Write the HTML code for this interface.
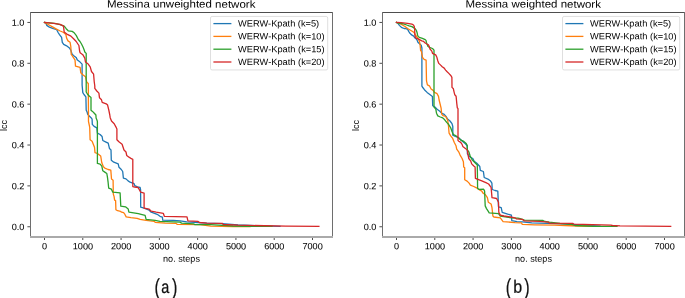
<!DOCTYPE html>
<html><head><meta charset="utf-8"><style>
html,body{margin:0;padding:0;background:#fff;width:685px;height:298px;overflow:hidden}
svg{display:block;will-change:transform;font-family:"Liberation Sans",sans-serif}
.tk{font-size:9.1px;fill:#000}
.num{stroke:#000;stroke-width:0.06px}
.ti{font-size:10.5px;fill:#000}
.cap{font-size:18.5px;fill:#111}
</style></head><body>
<svg width="685" height="298" viewBox="0 0 685 298">
<rect x="0" y="0" width="685" height="298" fill="#fff"/>
<polyline points="44.50,22.45 46.00,23.40 46.70,25.40 49.40,27.10 53.40,28.70 56.70,29.60 58.10,32.50 59.50,34.60 61.60,37.40 62.30,42.30 63.70,44.40 66.60,45.80 69.40,47.90 70.80,50.10 72.00,54.00 73.40,55.40 76.10,57.40 77.40,60.10 80.10,62.10 82.10,64.10 82.10,85.00 82.80,92.60 84.00,94.50 85.90,96.90 86.20,110.20 87.10,112.00 87.70,114.40 89.50,116.20 91.30,118.00 92.10,119.20 92.30,124.40 94.10,126.40 96.80,127.80 97.40,133.10 100.10,134.50 102.10,136.50 102.80,140.50 105.50,141.80 108.20,143.20 109.50,148.60 111.00,150.00 111.30,160.20 113.80,162.20 118.20,163.80 119.00,167.30 121.30,169.50 122.70,171.50 123.40,178.20 126.00,178.90 128.10,180.90 130.10,182.20 132.10,182.90 134.10,183.60 134.80,185.60 137.40,186.90 140.10,187.50 140.60,190.00 140.70,207.20 144.10,208.20 149.20,210.20 151.20,212.20 157.20,214.30 160.00,216.30 162.40,217.10 162.70,220.10 173.40,220.40 180.10,220.80 186.80,221.80 198.30,222.50 206.80,223.10 222.00,223.60 238.00,225.00 260.00,225.80 280.00,226.30" fill="none" stroke="#1f77b4" stroke-width="1.3" stroke-linejoin="round" stroke-linecap="square"/>
<polyline points="44.50,22.45 48.70,24.70 53.40,27.40 56.00,28.90 60.20,31.00 63.70,32.50 65.90,34.60 66.60,38.10 68.00,40.90 70.10,42.30 70.80,46.50 71.20,54.30 72.20,55.70 73.60,57.80 75.00,59.90 75.50,66.10 80.10,67.40 80.80,72.80 82.80,74.80 85.50,76.80 86.80,82.20 88.30,83.60 88.50,121.50 89.70,127.10 90.10,139.80 92.10,141.20 93.40,144.50 94.50,147.20 95.00,152.60 97.40,153.50 100.70,156.00 101.80,162.80 103.40,166.80 104.80,168.10 108.10,169.50 110.80,170.10 111.50,178.90 113.10,180.20 113.30,194.10 114.10,196.60 114.60,200.10 115.60,200.60 115.90,209.70 117.60,210.70 120.60,211.40 121.60,212.20 123.60,212.70 124.80,214.20 126.20,216.90 130.90,217.60 137.10,218.30 140.10,219.30 146.10,220.30 154.20,221.30 155.20,222.30 165.30,223.10 176.10,223.40 177.40,224.40 200.00,224.60 210.80,226.10 233.00,226.50 250.00,226.60" fill="none" stroke="#ff7f0e" stroke-width="1.3" stroke-linejoin="round" stroke-linecap="square"/>
<polyline points="44.50,22.45 54.80,23.40 60.10,24.70 64.20,26.10 66.20,28.70 68.20,30.80 72.20,31.40 74.20,32.80 76.20,35.40 78.30,39.50 80.00,41.50 81.50,44.00 83.00,47.00 84.20,50.00 84.80,52.00 86.20,53.40 86.20,92.00 87.70,94.50 89.50,96.30 91.00,97.50 91.00,110.20 92.50,111.40 94.30,113.20 95.90,115.00 96.10,118.00 97.30,121.00 97.40,122.40 97.40,163.40 100.10,164.10 101.80,166.10 102.80,170.80 104.80,172.10 106.80,173.50 107.40,176.80 108.10,182.20 108.70,188.20 111.40,189.20 112.80,192.10 120.10,192.80 120.80,206.20 125.50,206.80 128.20,208.90 128.90,212.20 133.60,212.90 138.30,213.60 141.10,214.30 145.10,215.30 146.10,219.30 155.20,220.30 160.00,221.40 180.10,222.10 181.50,223.10 193.60,223.80 194.90,224.60 210.80,224.70 222.00,225.40 233.00,226.00 250.00,226.30 272.00,226.40" fill="none" stroke="#2ca02c" stroke-width="1.3" stroke-linejoin="round" stroke-linecap="square"/>
<polyline points="44.50,22.45 53.40,23.40 60.10,24.40 63.50,26.10 64.20,32.10 66.80,34.10 70.90,36.10 73.60,38.80 76.20,41.50 78.90,45.50 79.60,51.00 80.10,52.70 82.80,54.70 84.80,58.10 85.50,62.10 88.20,64.10 90.20,66.80 91.50,71.50 93.60,74.20 94.20,81.50 94.80,86.00 94.80,88.40 96.80,91.00 98.90,93.10 99.50,97.80 101.50,99.80 102.20,102.40 106.20,103.80 107.60,105.10 108.90,110.50 109.80,115.00 110.20,117.70 111.50,121.00 114.20,123.70 116.00,127.10 116.90,129.10 116.90,139.80 118.90,141.80 122.10,144.20 124.00,150.00 126.00,152.00 126.70,155.40 129.40,157.40 131.40,158.70 132.80,159.40 132.80,186.60 134.80,187.00 138.10,187.50 138.10,187.50 140.70,192.10 144.10,193.10 144.10,208.20 149.20,209.20 151.20,211.20 156.20,212.20 163.30,213.30 164.30,216.30 187.00,216.80 187.90,220.80 198.10,221.40 199.30,222.50 206.80,223.10 222.50,223.30 223.10,224.50 238.00,225.20 286.00,226.10 318.90,226.40" fill="none" stroke="#d62728" stroke-width="1.3" stroke-linejoin="round" stroke-linecap="square"/>
<rect x="30" y="12" width="303" height="1" fill="#4e4e4e"/>
<rect x="30" y="12" width="1" height="225" fill="#6e6e6e"/>
<rect x="332" y="12" width="1" height="225" fill="#6e6e6e"/>
<rect x="30" y="236" width="303" height="2" fill="#aaaaaa"/>
<line x1="27.4" y1="226.75" x2="30.0" y2="226.75" stroke="#000" stroke-width="0.7"/>
<text class="tk num" x="24.30" y="230.04" text-anchor="end" transform="matrix(1 0.0005 0 1 0 -0.0122)">0.0</text>
<line x1="27.4" y1="185.89" x2="30.0" y2="185.89" stroke="#000" stroke-width="0.7"/>
<text class="tk num" x="24.30" y="189.18" text-anchor="end" transform="matrix(1 0.0005 0 1 0 -0.0122)">0.2</text>
<line x1="27.4" y1="145.03" x2="30.0" y2="145.03" stroke="#000" stroke-width="0.7"/>
<text class="tk num" x="24.30" y="148.32" text-anchor="end" transform="matrix(1 0.0005 0 1 0 -0.0122)">0.4</text>
<line x1="27.4" y1="104.17" x2="30.0" y2="104.17" stroke="#000" stroke-width="0.7"/>
<text class="tk num" x="24.30" y="107.46" text-anchor="end" transform="matrix(1 0.0005 0 1 0 -0.0122)">0.6</text>
<line x1="27.4" y1="63.31" x2="30.0" y2="63.31" stroke="#000" stroke-width="0.7"/>
<text class="tk num" x="24.30" y="66.60" text-anchor="end" transform="matrix(1 0.0005 0 1 0 -0.0122)">0.8</text>
<line x1="27.4" y1="22.45" x2="30.0" y2="22.45" stroke="#000" stroke-width="0.7"/>
<text class="tk num" x="24.30" y="25.74" text-anchor="end" transform="matrix(1 0.0005 0 1 0 -0.0122)">1.0</text>
<line x1="44.50" y1="238" x2="44.50" y2="240" stroke="#000" stroke-width="0.7"/>
<text class="tk num" x="44.60" y="249.39" text-anchor="middle" transform="matrix(1 0.0005 0 1 0 -0.0223)">0</text>
<line x1="82.79" y1="238" x2="82.79" y2="240" stroke="#000" stroke-width="0.7"/>
<text class="tk num" x="82.89" y="249.39" text-anchor="middle" transform="matrix(1 0.0005 0 1 0 -0.0414)">1000</text>
<line x1="121.07" y1="238" x2="121.07" y2="240" stroke="#000" stroke-width="0.7"/>
<text class="tk num" x="121.17" y="249.39" text-anchor="middle" transform="matrix(1 0.0005 0 1 0 -0.0606)">2000</text>
<line x1="159.36" y1="238" x2="159.36" y2="240" stroke="#000" stroke-width="0.7"/>
<text class="tk num" x="159.46" y="249.39" text-anchor="middle" transform="matrix(1 0.0005 0 1 0 -0.0797)">3000</text>
<line x1="197.64" y1="238" x2="197.64" y2="240" stroke="#000" stroke-width="0.7"/>
<text class="tk num" x="197.74" y="249.39" text-anchor="middle" transform="matrix(1 0.0005 0 1 0 -0.0989)">4000</text>
<line x1="235.93" y1="238" x2="235.93" y2="240" stroke="#000" stroke-width="0.7"/>
<text class="tk num" x="236.03" y="249.39" text-anchor="middle" transform="matrix(1 0.0005 0 1 0 -0.1180)">5000</text>
<line x1="274.21" y1="238" x2="274.21" y2="240" stroke="#000" stroke-width="0.7"/>
<text class="tk num" x="274.31" y="249.39" text-anchor="middle" transform="matrix(1 0.0005 0 1 0 -0.1372)">6000</text>
<line x1="312.50" y1="238" x2="312.50" y2="240" stroke="#000" stroke-width="0.7"/>
<text class="tk num" x="312.60" y="249.39" text-anchor="middle" transform="matrix(1 0.0005 0 1 0 -0.1563)">7000</text>
<text class="tk" x="181.50" y="261.80" text-anchor="middle" transform="matrix(1 0.0005 0 1 0 -0.0907)">no. steps</text>
<text class="tk" x="6.9" y="125.4" text-anchor="middle" transform="translate(0 0) rotate(-90 6.9 125.4)">lcc</text>
<text class="ti" x="181.20" y="7.60" text-anchor="middle" transform="matrix(1 0.0005 0 1 0 -0.0906)" textLength="148.4" lengthAdjust="spacingAndGlyphs">Messina unweighted network</text>
<rect x="210.5" y="16.45" width="117.2" height="53.5" rx="1.6" fill="#fff" fill-opacity="0.8" stroke="#d4d4d4" stroke-width="0.75"/>
<line x1="213.4" y1="23.60" x2="231.4" y2="23.60" stroke="#1f77b4" stroke-width="1.3"/>
<text class="tk" x="238.10" y="26.55" transform="matrix(1 0.0005 0 1 0 -0.1191)" textLength="81.1" lengthAdjust="spacingAndGlyphs">WERW-Kpath (k=5)</text>
<line x1="213.4" y1="36.40" x2="231.4" y2="36.40" stroke="#ff7f0e" stroke-width="1.3"/>
<text class="tk" x="238.10" y="39.35" transform="matrix(1 0.0005 0 1 0 -0.1191)" textLength="86.5" lengthAdjust="spacingAndGlyphs">WERW-Kpath (k=10)</text>
<line x1="213.4" y1="49.20" x2="231.4" y2="49.20" stroke="#2ca02c" stroke-width="1.3"/>
<text class="tk" x="238.10" y="52.15" transform="matrix(1 0.0005 0 1 0 -0.1191)" textLength="86.5" lengthAdjust="spacingAndGlyphs">WERW-Kpath (k=15)</text>
<line x1="213.4" y1="62.00" x2="231.4" y2="62.00" stroke="#d62728" stroke-width="1.3"/>
<text class="tk" x="238.10" y="64.95" transform="matrix(1 0.0005 0 1 0 -0.1191)" textLength="86.5" lengthAdjust="spacingAndGlyphs">WERW-Kpath (k=20)</text>
<text x="0" y="0" font-size="22.5px" fill="#111" stroke="#111" stroke-width="0.25" transform="matrix(0.72 0.0005 0 1 154.40 294.40)">(</text>
<text x="0" y="0" font-size="18.0px" fill="#111" stroke="#111" stroke-width="0.25" transform="matrix(0.8 0.0005 0 1 161.20 292.90)">a</text>
<text x="0" y="0" font-size="22.5px" fill="#111" stroke="#111" stroke-width="0.25" transform="matrix(0.72 0.0005 0 1 172.00 294.40)">)</text>
<polyline points="396.50,22.45 398.00,23.40 399.40,25.40 401.40,27.40 404.10,28.50 406.00,28.70 407.70,29.40 408.70,31.40 409.70,33.00 411.00,34.40 412.40,35.40 413.70,36.10 414.70,37.70 416.10,38.80 417.10,40.10 417.70,41.80 418.40,42.80 419.80,44.00 421.20,45.20 421.90,48.00 421.90,86.20 422.40,87.00 424.40,89.70 427.10,92.40 429.80,94.40 432.40,96.40 432.70,105.80 435.10,107.10 437.10,109.20 439.80,111.20 441.50,113.00 444.20,114.40 446.00,116.40 447.60,119.10 450.00,121.00 452.00,123.60 452.80,126.50 452.80,135.20 455.40,136.50 457.40,137.20 459.40,138.40 462.10,141.00 465.40,143.70 467.20,145.70 467.40,153.80 470.10,157.10 472.80,158.50 474.20,161.20 476.80,163.20 478.90,165.50 479.80,166.50 480.30,170.40 483.40,171.50 484.20,177.50 487.90,179.10 490.60,181.10 491.90,183.10 492.20,189.50 495.00,190.50 497.80,191.10 498.50,206.80 501.20,207.70 502.20,212.30 507.70,214.20 511.40,215.10 511.80,220.60 517.00,221.60 522.30,221.80 531.80,222.90 547.80,223.30 565.00,224.00 580.00,225.00 600.00,226.00" fill="none" stroke="#1f77b4" stroke-width="1.3" stroke-linejoin="round" stroke-linecap="square"/>
<polyline points="396.50,22.45 401.00,24.10 405.00,26.50 408.00,28.80 410.50,30.20 413.00,31.80 414.30,32.80 415.50,34.80 417.20,37.30 418.80,40.00 419.60,42.00 420.10,45.00 420.60,50.50 421.40,51.30 422.50,57.40 424.10,59.40 426.10,60.10 426.50,80.90 427.40,84.90 429.40,85.80 431.10,89.00 433.10,90.40 434.50,92.40 437.10,93.70 438.50,96.40 439.10,100.00 440.10,104.00 441.10,108.10 441.70,114.10 443.10,115.70 445.70,116.50 447.70,120.10 448.50,126.20 449.10,133.20 450.70,135.90 452.70,138.40 454.30,142.50 456.00,145.70 456.70,149.10 458.70,151.80 460.10,155.10 462.10,158.50 463.40,161.80 463.70,167.00 464.70,167.70 464.70,179.80 467.10,181.10 469.10,183.10 470.40,185.10 473.80,186.50 476.50,187.80 478.50,189.20 480.00,190.20 481.80,191.10 482.80,192.90 485.50,194.80 487.40,197.60 488.30,202.20 491.10,204.00 492.00,207.70 492.90,216.00 493.90,217.00 500.30,217.90 503.10,221.60 515.00,222.60 521.60,222.90 522.30,224.40 534.70,224.80 554.40,225.10 565.00,225.50 577.50,226.00 593.30,226.40" fill="none" stroke="#ff7f0e" stroke-width="1.3" stroke-linejoin="round" stroke-linecap="square"/>
<polyline points="396.50,22.45 397.80,23.00 403.50,23.80 406.70,25.00 409.10,25.80 411.90,26.60 413.90,27.90 415.50,29.10 416.40,30.50 417.10,32.70 417.60,35.30 418.40,36.70 420.10,37.70 422.40,38.40 424.10,39.10 425.20,39.60 426.00,40.40 426.40,42.40 427.20,44.40 428.00,46.50 430.10,47.70 432.50,48.50 434.00,50.10 434.00,107.10 435.80,109.20 436.50,113.20 437.80,115.90 440.30,117.00 442.70,117.90 444.70,119.80 446.70,122.40 448.70,124.50 450.70,127.80 452.10,131.80 453.40,134.50 456.10,135.90 458.10,137.40 460.40,139.80 463.80,141.40 466.20,143.50 467.20,145.50 467.40,149.80 468.80,151.80 470.10,155.80 472.10,159.80 474.80,162.50 476.80,164.50 477.30,165.00 477.60,188.50 479.20,189.40 483.70,189.20 484.60,191.10 485.20,205.90 486.50,208.60 488.30,211.40 489.20,212.90 498.50,213.60 500.30,216.00 511.40,217.90 517.90,218.20 520.10,218.60 524.50,220.20 542.70,220.40 544.90,221.50 549.30,222.20 560.00,223.40 571.40,224.40 574.90,225.50 593.30,226.30 617.00,226.40" fill="none" stroke="#2ca02c" stroke-width="1.3" stroke-linejoin="round" stroke-linecap="square"/>
<polyline points="396.50,22.45 401.10,22.60 407.50,23.40 411.90,24.20 413.50,25.00 414.30,26.60 414.70,29.50 414.80,34.70 415.40,37.40 416.70,38.40 418.80,39.10 420.40,40.10 421.80,40.80 423.60,41.30 424.80,42.80 426.80,44.00 428.40,44.80 429.20,46.50 430.10,49.30 431.70,50.90 432.50,53.30 434.10,54.10 435.70,54.90 436.90,57.30 437.70,60.50 438.80,63.40 440.90,65.40 442.20,66.80 444.20,68.10 445.60,70.10 446.90,71.50 448.80,73.40 451.00,75.70 451.90,77.40 452.00,87.40 453.40,88.80 454.10,92.10 454.80,94.80 456.10,96.20 456.80,103.60 457.30,107.80 458.00,108.60 458.00,140.60 458.80,141.20 460.70,142.40 462.10,144.40 462.80,146.40 465.40,148.40 467.40,150.40 468.10,155.10 468.80,158.50 470.80,161.20 471.70,163.90 473.80,166.00 475.10,167.00 475.40,178.40 479.20,179.80 481.80,180.80 485.90,182.60 488.60,184.00 491.10,187.40 492.00,197.60 496.60,198.50 498.50,202.20 498.80,212.30 500.30,215.10 504.00,216.00 510.50,217.00 515.00,217.80 516.50,218.90 522.30,219.30 524.10,220.80 539.80,221.30 548.60,222.20 549.30,223.10 572.70,223.30 574.00,224.20 610.80,225.10 612.50,225.50 620.00,225.90 670.70,226.40" fill="none" stroke="#d62728" stroke-width="1.3" stroke-linejoin="round" stroke-linecap="square"/>
<rect x="382" y="12" width="303" height="1" fill="#4e4e4e"/>
<rect x="382" y="12" width="1" height="225" fill="#6e6e6e"/>
<rect x="684" y="12" width="1" height="225" fill="#6e6e6e"/>
<rect x="382" y="236" width="303" height="2" fill="#aaaaaa"/>
<line x1="379.4" y1="226.75" x2="382.0" y2="226.75" stroke="#000" stroke-width="0.7"/>
<text class="tk num" x="376.30" y="230.04" text-anchor="end" transform="matrix(1 0.0005 0 1 0 -0.1882)">0.0</text>
<line x1="379.4" y1="185.89" x2="382.0" y2="185.89" stroke="#000" stroke-width="0.7"/>
<text class="tk num" x="376.30" y="189.18" text-anchor="end" transform="matrix(1 0.0005 0 1 0 -0.1882)">0.2</text>
<line x1="379.4" y1="145.03" x2="382.0" y2="145.03" stroke="#000" stroke-width="0.7"/>
<text class="tk num" x="376.30" y="148.32" text-anchor="end" transform="matrix(1 0.0005 0 1 0 -0.1882)">0.4</text>
<line x1="379.4" y1="104.17" x2="382.0" y2="104.17" stroke="#000" stroke-width="0.7"/>
<text class="tk num" x="376.30" y="107.46" text-anchor="end" transform="matrix(1 0.0005 0 1 0 -0.1882)">0.6</text>
<line x1="379.4" y1="63.31" x2="382.0" y2="63.31" stroke="#000" stroke-width="0.7"/>
<text class="tk num" x="376.30" y="66.60" text-anchor="end" transform="matrix(1 0.0005 0 1 0 -0.1882)">0.8</text>
<line x1="379.4" y1="22.45" x2="382.0" y2="22.45" stroke="#000" stroke-width="0.7"/>
<text class="tk num" x="376.30" y="25.74" text-anchor="end" transform="matrix(1 0.0005 0 1 0 -0.1882)">1.0</text>
<line x1="396.50" y1="238" x2="396.50" y2="240" stroke="#000" stroke-width="0.7"/>
<text class="tk num" x="396.60" y="249.39" text-anchor="middle" transform="matrix(1 0.0005 0 1 0 -0.1983)">0</text>
<line x1="434.79" y1="238" x2="434.79" y2="240" stroke="#000" stroke-width="0.7"/>
<text class="tk num" x="434.89" y="249.39" text-anchor="middle" transform="matrix(1 0.0005 0 1 0 -0.2174)">1000</text>
<line x1="473.07" y1="238" x2="473.07" y2="240" stroke="#000" stroke-width="0.7"/>
<text class="tk num" x="473.17" y="249.39" text-anchor="middle" transform="matrix(1 0.0005 0 1 0 -0.2366)">2000</text>
<line x1="511.36" y1="238" x2="511.36" y2="240" stroke="#000" stroke-width="0.7"/>
<text class="tk num" x="511.46" y="249.39" text-anchor="middle" transform="matrix(1 0.0005 0 1 0 -0.2557)">3000</text>
<line x1="549.64" y1="238" x2="549.64" y2="240" stroke="#000" stroke-width="0.7"/>
<text class="tk num" x="549.74" y="249.39" text-anchor="middle" transform="matrix(1 0.0005 0 1 0 -0.2749)">4000</text>
<line x1="587.93" y1="238" x2="587.93" y2="240" stroke="#000" stroke-width="0.7"/>
<text class="tk num" x="588.03" y="249.39" text-anchor="middle" transform="matrix(1 0.0005 0 1 0 -0.2940)">5000</text>
<line x1="626.21" y1="238" x2="626.21" y2="240" stroke="#000" stroke-width="0.7"/>
<text class="tk num" x="626.31" y="249.39" text-anchor="middle" transform="matrix(1 0.0005 0 1 0 -0.3132)">6000</text>
<line x1="664.50" y1="238" x2="664.50" y2="240" stroke="#000" stroke-width="0.7"/>
<text class="tk num" x="664.60" y="249.39" text-anchor="middle" transform="matrix(1 0.0005 0 1 0 -0.3323)">7000</text>
<text class="tk" x="533.50" y="261.80" text-anchor="middle" transform="matrix(1 0.0005 0 1 0 -0.2667)">no. steps</text>
<text class="tk" x="6.9" y="125.4" text-anchor="middle" transform="translate(352 0) rotate(-90 6.9 125.4)">lcc</text>
<text class="ti" x="533.20" y="7.60" text-anchor="middle" transform="matrix(1 0.0005 0 1 0 -0.2666)" textLength="135.5" lengthAdjust="spacingAndGlyphs">Messina weighted network</text>
<rect x="562.5" y="16.45" width="117.2" height="53.5" rx="1.6" fill="#fff" fill-opacity="0.8" stroke="#d4d4d4" stroke-width="0.75"/>
<line x1="565.4" y1="23.60" x2="583.4" y2="23.60" stroke="#1f77b4" stroke-width="1.3"/>
<text class="tk" x="590.10" y="26.55" transform="matrix(1 0.0005 0 1 0 -0.2951)" textLength="81.1" lengthAdjust="spacingAndGlyphs">WERW-Kpath (k=5)</text>
<line x1="565.4" y1="36.40" x2="583.4" y2="36.40" stroke="#ff7f0e" stroke-width="1.3"/>
<text class="tk" x="590.10" y="39.35" transform="matrix(1 0.0005 0 1 0 -0.2951)" textLength="86.5" lengthAdjust="spacingAndGlyphs">WERW-Kpath (k=10)</text>
<line x1="565.4" y1="49.20" x2="583.4" y2="49.20" stroke="#2ca02c" stroke-width="1.3"/>
<text class="tk" x="590.10" y="52.15" transform="matrix(1 0.0005 0 1 0 -0.2951)" textLength="86.5" lengthAdjust="spacingAndGlyphs">WERW-Kpath (k=15)</text>
<line x1="565.4" y1="62.00" x2="583.4" y2="62.00" stroke="#d62728" stroke-width="1.3"/>
<text class="tk" x="590.10" y="64.95" transform="matrix(1 0.0005 0 1 0 -0.2951)" textLength="86.5" lengthAdjust="spacingAndGlyphs">WERW-Kpath (k=20)</text>
<text x="0" y="0" font-size="22.5px" fill="#111" stroke="#111" stroke-width="0.25" transform="matrix(0.72 0.0005 0 1 505.80 294.40)">(</text>
<text x="0" y="0" font-size="17.8px" fill="#111" stroke="#111" stroke-width="0.25" transform="matrix(0.9 0.0005 0 1 513.20 292.70)">b</text>
<text x="0" y="0" font-size="22.5px" fill="#111" stroke="#111" stroke-width="0.25" transform="matrix(0.72 0.0005 0 1 524.20 294.40)">)</text>
</svg></body></html>
